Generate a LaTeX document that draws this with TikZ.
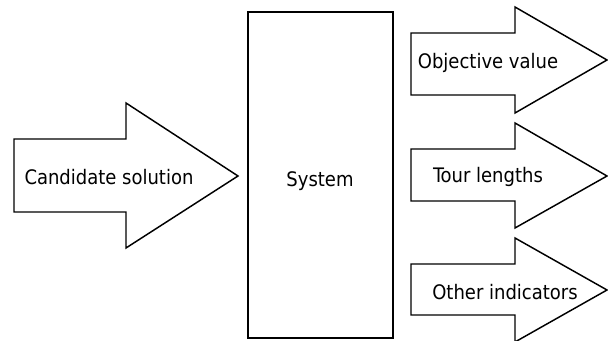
\documentclass[tikz,border=0pt]{standalone}
\usepackage{fontspec}
\setmainfont{DejaVu Sans Condensed}
\begin{document}
\begin{tikzpicture}[x=0.75pt,y=-0.75pt,
  outline/.style={draw=black,line width=1.1pt,line join=miter,fill=white},
  label/.style={font=\fontsize{15}{18}\selectfont,inner sep=0pt,anchor=center}]
\useasboundingbox (0,0) rectangle (608,341);
% input block arrow
\draw[outline] (14,139) -- (126,139) -- (126,103) -- (238,176) -- (126,248) -- (126,212) -- (14,212) -- cycle;
% system box
\draw[outline] (248,12) rectangle (393,338);
% output block arrows
\draw[outline] (411,33) -- (515,33) -- (515,7) -- (607,60) -- (515,113) -- (515,95) -- (411,95) -- cycle;
\draw[outline] (411,149) -- (515,149) -- (515,123) -- (607,176) -- (515,228) -- (515,201) -- (411,201) -- cycle;
\draw[outline] (411,264) -- (515,264) -- (515,238) -- (607,290) -- (515,342) -- (515,315) -- (411,315) -- cycle;
% labels
\node[label] (cand) at (109,177) {Candidate solution};
\node[label] (sys) at (320,181) {System};
\node[label] (obj) at (488,63) {Objective value};
\node[label] (tour) at (488,177) {Tour lengths};
\node[label] (other) at (505,292) {Other indicators};
\end{tikzpicture}
\end{document}
